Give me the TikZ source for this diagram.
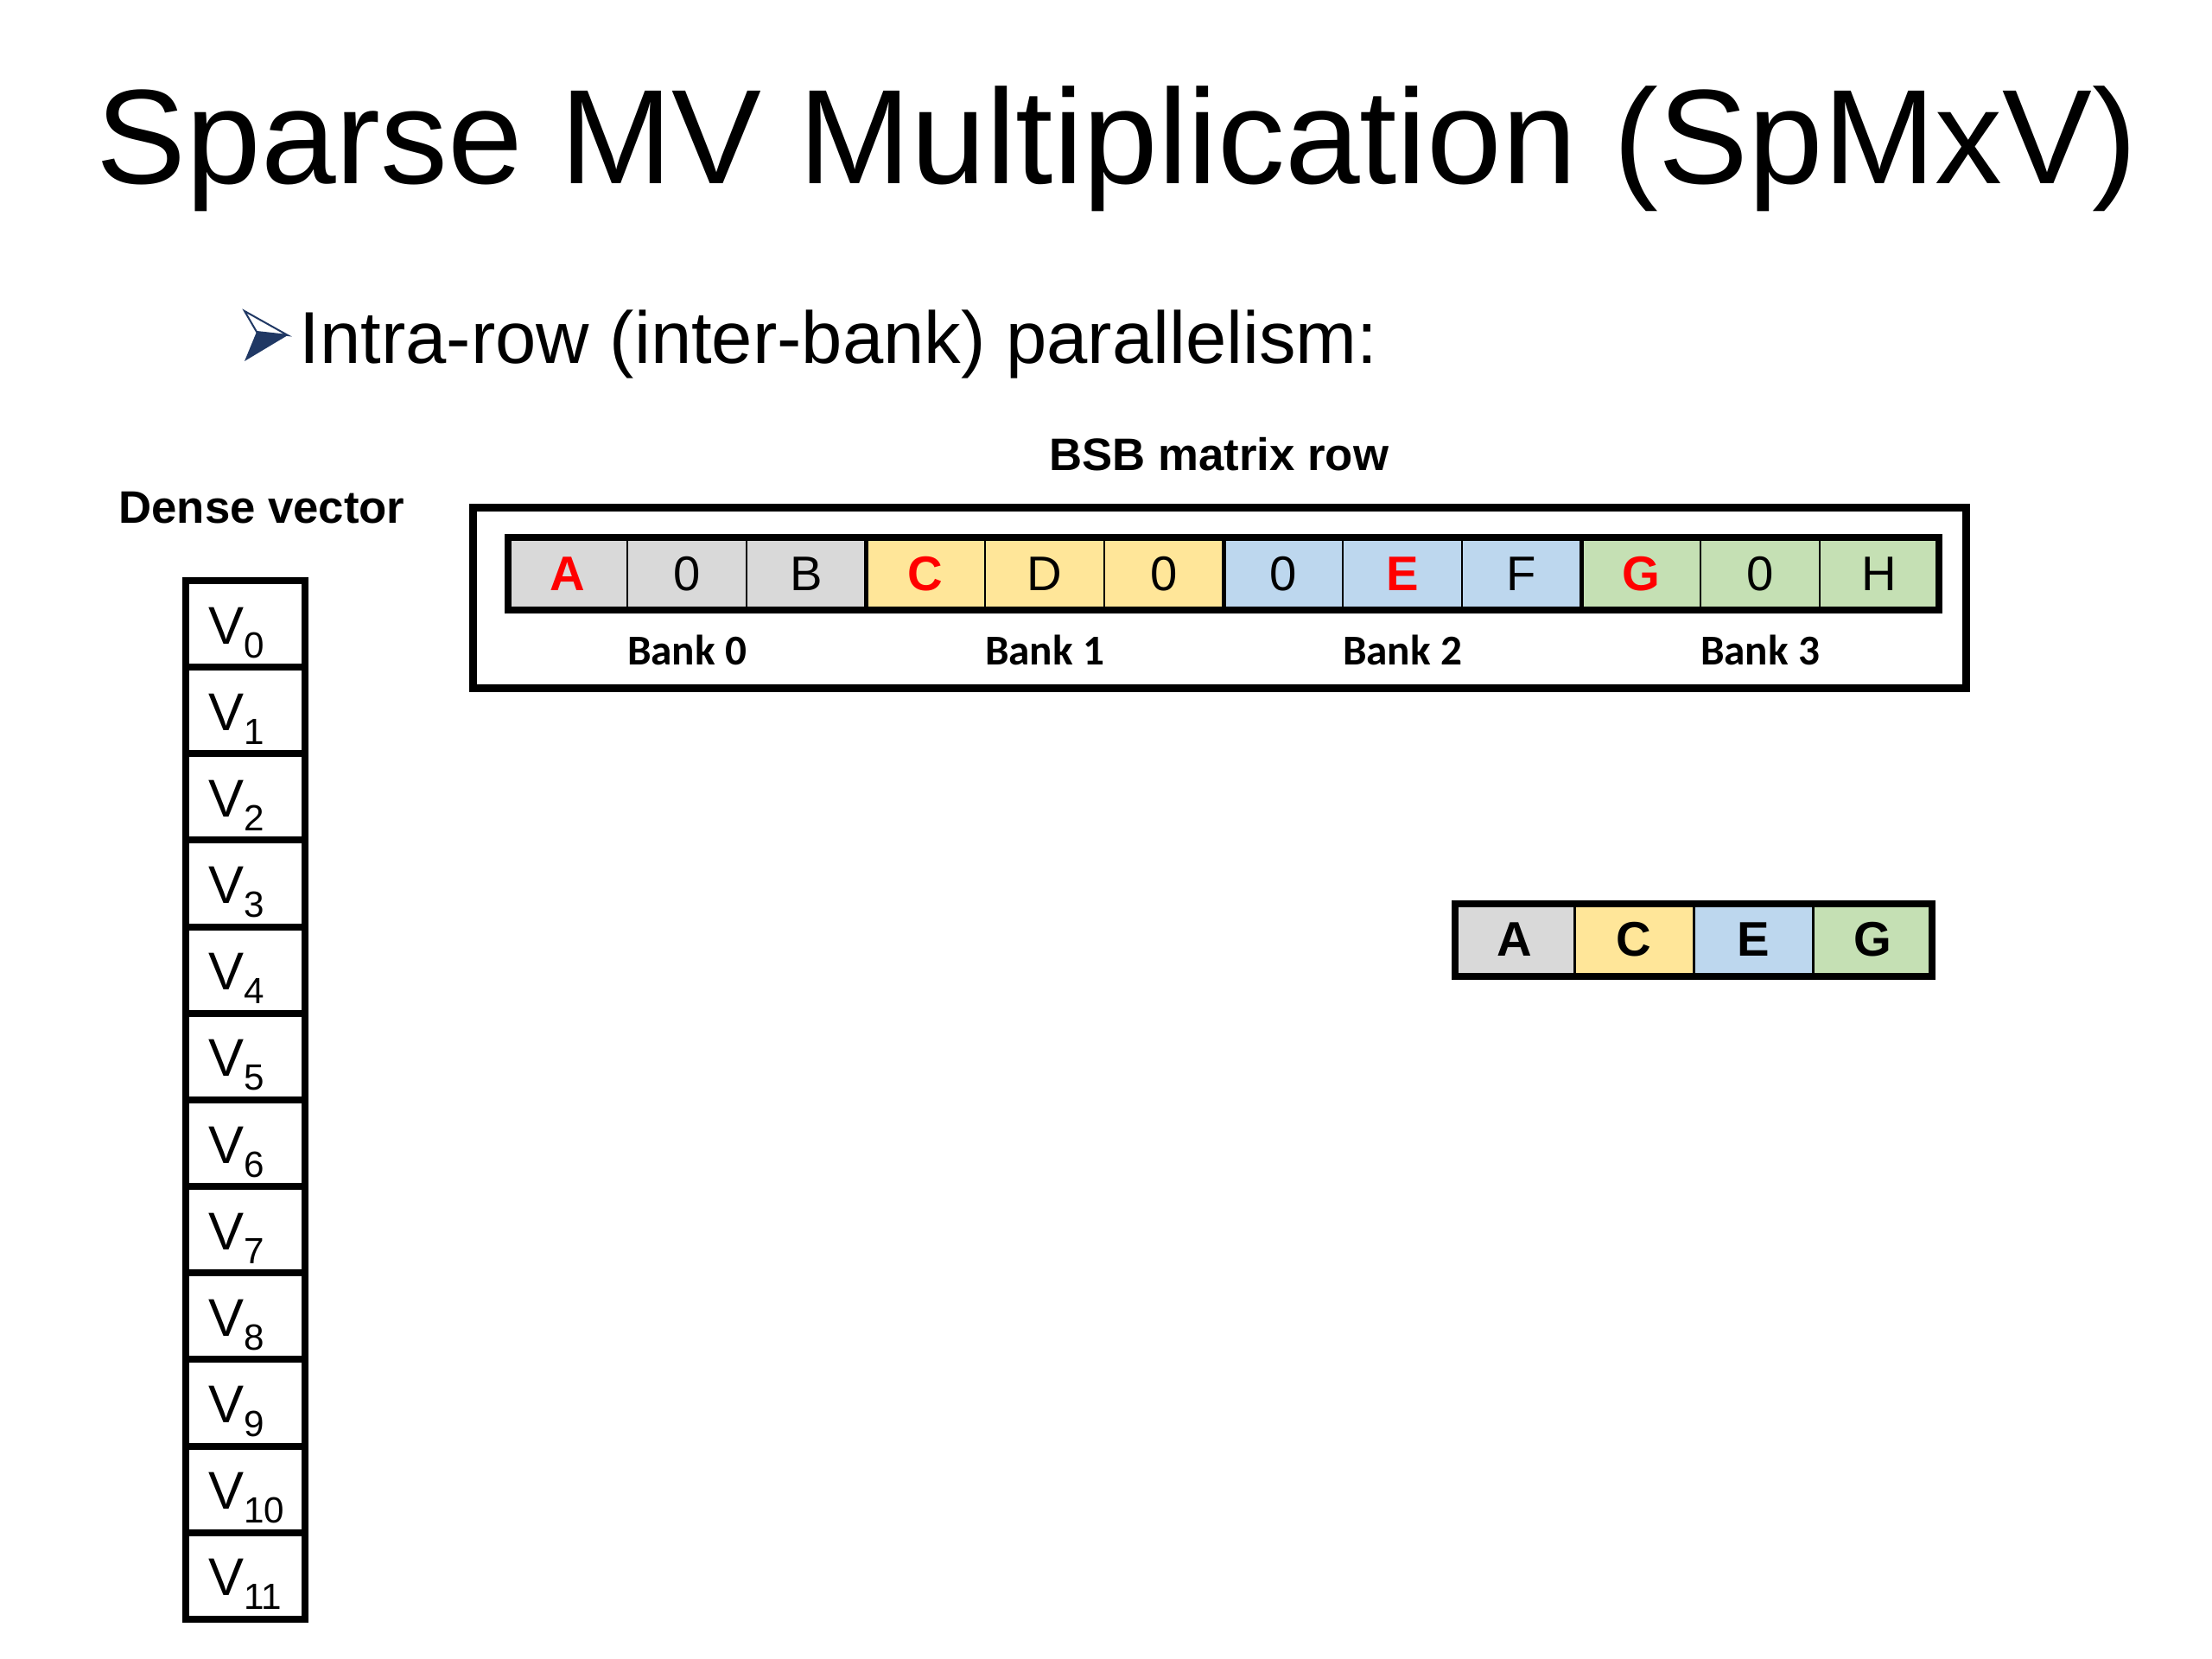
\documentclass[tikz,border=0pt]{standalone}
\usepackage{fontspec}
\setmainfont{Liberation Sans}
\newfontfamily\bankfont{Carlito}
\usetikzlibrary{positioning}
\usepackage{xcolor}

\definecolor{bankgray}{HTML}{D9D9D9}
\definecolor{bankgold}{HTML}{FFE699}
\definecolor{bankblue}{HTML}{BDD7EE}
\definecolor{bankgreen}{HTML}{C5E0B4}
\definecolor{bulletnavy}{HTML}{203864}

\newcommand{\redval}[1]{\textcolor{red}{\textbf{#1}}}
\newcommand{\vsub}[1]{\raisebox{-0.16cm}{\fontsize{12}{14}\selectfont #1}}

\begin{document}
\begin{tikzpicture}[
  font=\fontsize{16}{19}\selectfont,
  node distance=0pt,
  cell/.style={draw=black, line width=0.02cm, outer sep=0pt, inner sep=0pt,
               minimum width=1.38cm, minimum height=0.84cm},
  gcell/.style={cell, fill=bankgray},
  ycell/.style={cell, fill=bankgold},
  bcell/.style={cell, fill=bankblue},
  ncell/.style={cell, fill=bankgreen},
  packed/.style={line width=0.03cm, font=\bfseries\fontsize{16}{19}\selectfont},
  vcell/.style={draw=black, line width=0.08cm, outer sep=0pt, inner sep=0pt,
                minimum width=1.38cm, minimum height=1.0017cm,
                text width=0.86cm, align=left,
                text height=0.62cm, text depth=0.16cm,
                font=\fontsize{17.5}{20}\selectfont},
  banklabel/.style={font=\bankfont\bfseries\fontsize{14}{17}\selectfont,
                    inner sep=0pt},
  heading/.style={font=\bfseries\fontsize{15}{18}\selectfont, inner sep=0pt},
  heavy/.style={line width=0.08cm},
  banksep/.style={line width=0.05cm},
]
\useasboundingbox (0,0) rectangle (25.6,-19.2);

% ---- Title and bullet ----
\node[anchor=base west, inner sep=0pt, font=\fontsize{44.3}{53}\selectfont]
  (title) at (1.11,-2.13) {Sparse MV Multiplication (SpMxV)};
\node[anchor=base west, inner sep=0pt, font=\fontsize{24.2}{29}\selectfont]
  (bullet) at (3.46,-4.21) {Intra-row (inter-bank) parallelism:};

% arrowhead bullet: dark lower face, white upper face
\coordinate (arrT) at (2.83,-3.60);
\coordinate (arrN) at (2.97,-3.84);
\coordinate (arrB) at (2.83,-4.18);
\coordinate (arrP) at (3.33,-3.88);
\fill[bulletnavy] (arrN) -- (arrP) -- (arrB) -- cycle;
\draw[bulletnavy, fill=white, line width=0.02cm] (arrT) -- (arrP) -- (arrN) -- cycle;

% ---- BSB matrix row ----
\node[draw, line width=0.09cm, inner sep=0pt,
      minimum width=17.28cm, minimum height=2.08cm] (rowbox) at (14.11,-6.92) {};
\node[heading, above=0.38cm of rowbox] (bsbtitle) {BSB matrix row};

\node[gcell] (a0) at (6.57,-6.64) {\redval{A}};
\node[gcell, right=of a0] (a1) {0};
\node[gcell, right=of a1] (a2) {B};
\node[ycell, right=of a2] (a3) {\redval{C}};
\node[ycell, right=of a3] (a4) {D};
\node[ycell, right=of a4] (a5) {0};
\node[bcell, right=of a5] (a6) {0};
\node[bcell, right=of a6] (a7) {\redval{E}};
\node[bcell, right=of a7] (a8) {F};
\node[ncell, right=of a8] (a9) {\redval{G}};
\node[ncell, right=of a9] (a10) {0};
\node[ncell, right=of a10] (a11) {H};

% heavy outline and bank borders
\draw[heavy] (a0.north west) rectangle (a11.south east);
\draw[banksep] (a2.north east) -- (a2.south east);
\draw[banksep] (a5.north east) -- (a5.south east);
\draw[banksep] (a8.north east) -- (a8.south east);

% Bank labels under the middle cell of each bank
\node[banklabel, below=0.28cm of a1] (bank0) {Bank 0};
\node[banklabel, below=0.28cm of a4] (bank1) {Bank 1};
\node[banklabel, below=0.28cm of a7] (bank2) {Bank 2};
\node[banklabel, below=0.28cm of a10] (bank3) {Bank 3};

% ---- Dense vector ----
\node[vcell] (v0) at (2.84,-7.22) {V\vsub{0}};
\node[vcell, below=of v0] (v1) {V\vsub{1}};
\node[vcell, below=of v1] (v2) {V\vsub{2}};
\node[vcell, below=of v2] (v3) {V\vsub{3}};
\node[vcell, below=of v3] (v4) {V\vsub{4}};
\node[vcell, below=of v4] (v5) {V\vsub{5}};
\node[vcell, below=of v5] (v6) {V\vsub{6}};
\node[vcell, below=of v6] (v7) {V\vsub{7}};
\node[vcell, below=of v7] (v8) {V\vsub{8}};
\node[vcell, below=of v8] (v9) {V\vsub{9}};
\node[vcell, below=of v9] (v10) {V\vsub{10}};
\node[vcell, below=of v10] (v11) {V\vsub{11}};
\node[heading, above=0.65cm of v0, xshift=0.19cm] (densetitle) {Dense vector};

% ---- Packed non-zeros ----
\node[gcell, packed] (p0) at (17.53,-10.875) {A};
\node[ycell, packed, right=of p0] (p1) {C};
\node[bcell, packed, right=of p1] (p2) {E};
\node[ncell, packed, right=of p2] (p3) {G};
\draw[heavy] (p0.north west) rectangle (p3.south east);

\end{tikzpicture}
\end{document}
